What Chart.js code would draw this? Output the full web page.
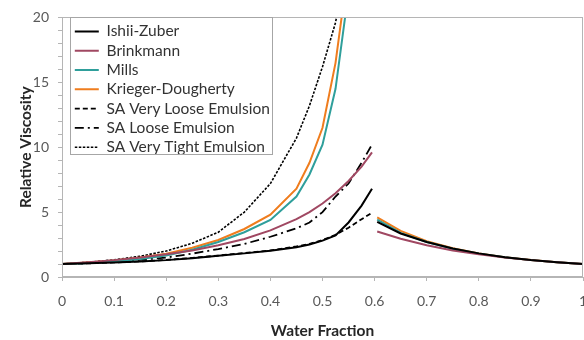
<!DOCTYPE html>
<html>
<head>
<meta charset="utf-8">
<script src="https://cdn.jsdelivr.net/npm/chart.js@4"></script>
<style>
  html, body { margin: 0; padding: 0; background: #fff; }
  #wrap { width: 584px; height: 340px; }
</style>
</head>
<body>
<div id="wrap"><canvas id="viscChart" width="584" height="340"></canvas></div>
<script>
// water fraction grids (oil-continuous side, water-continuous side)
const oilSideX = [0, 0.05, 0.1, 0.15, 0.2, 0.25, 0.3, 0.35, 0.4, 0.45, 0.475, 0.5, 0.525, 0.55, 0.575, 0.595];
const waterSideX = [0.605, 0.65, 0.7, 0.75, 0.8, 0.85, 0.9, 0.95, 1];

// relative viscosity
const ishiiOil = [1, 1.05, 1.12, 1.2, 1.3, 1.45, 1.63, 1.82, 2.03, 2.3, 2.5, 2.8, 3.2, 4.2, 5.5, 6.8];
const brinkOil = [1, 1.14, 1.3, 1.5, 1.75, 2.05, 2.44, 2.93, 3.59, 4.46, 5.0, 5.66, 6.45, 7.4, 8.5, 9.6];
const millsOil = [1, 1.08, 1.2, 1.38, 1.65, 2.1, 2.7, 3.45, 4.4, 6.2, 7.9, 10.2, 14.5, 22, null, null];
const kdOil = [1, 1.12, 1.28, 1.5, 1.8, 2.25, 2.85, 3.7, 4.8, 6.8, 8.8, 11.5, 16.5, 24, null, null];
const veryLooseOil = [1, 1.05, 1.12, 1.2, 1.32, 1.47, 1.65, 1.85, 2.05, 2.35, 2.55, 2.85, 3.25, 3.8, 4.45, 4.95];
const looseOil = [1, 1.08, 1.18, 1.32, 1.5, 1.8, 2.15, 2.55, 3.1, 3.75, 4.2, 5.0, 6.2, 7.2, 8.8, 10.2];
const veryTightOil = [1, 1.14, 1.32, 1.6, 2.0, 2.6, 3.45, 5.0, 7.2, 10.7, 13.2, 16.2, 19.6, 25, null, null];

const ishiiWater = [4.25, 3.35, 2.7, 2.2, 1.82, 1.53, 1.31, 1.14, 1];
const brinkWater = [3.5, 2.95, 2.44, 2.05, 1.75, 1.5, 1.3, 1.14, 1];
const millsWater = [4.42, 3.4, 2.7, 2.17, 1.8, 1.52, 1.3, 1.13, 1];
const kdWater = [4.6, 3.55, 2.76, 2.21, 1.82, 1.53, 1.31, 1.14, 1];

function pts(xs, ys) {
    return xs.map((x, i) => ({ x: x, y: ys[i] }));
}

// oil side + gap + water side
function twoBranch(oil, water) {
    return pts(oilSideX, oil).concat([{ x: 0.6, y: null }], pts(waterSideX, water));
}

const font = 'Lato, "Open Sans", sans-serif';

function series(label, data, color, dash, width) {
    return {
        label: label,
        data: data,
        borderColor: color,
        backgroundColor: color,
        borderWidth: width || 2,
        borderDash: dash || [],
        pointRadius: 0,
        tension: 0,
        fill: false,
        spanGaps: false,
    };
}

// legend sits inside the plot, framed; plot area gets a full box
const plotFrame = {
    id: 'plotFrame',
    afterLayout(chart) {
        const lg = chart.legend;
        lg.left = chart.chartArea.left + 9;
        lg.top = chart.chartArea.top + 2.5;
    },
    afterDraw(chart) {
        const { ctx, chartArea: a } = chart;
        ctx.save();
        ctx.strokeStyle = '#b5b5b5';
        ctx.lineWidth = 1;
        ctx.strokeRect(Math.round(a.left) + 0.5, Math.round(a.top) + 0.5, Math.round(a.width) - 1, Math.round(a.height) - 1);

        const lg = chart.legend;
        const pad = lg.options.labels.padding;
        const col = lg.columnSizes && lg.columnSizes[0];
        if (col) {
            const l = lg.left + pad - 5;
            const r = lg.left + pad + col.width + 2;
            const b = lg.top + pad + col.height - 4;
            ctx.strokeStyle = '#a6a6a6';
            ctx.strokeRect(Math.round(l) + 0.5, Math.round(a.top) + 0.5, Math.round(r - l), Math.round(b - a.top));
        }
        ctx.restore();
    }
};

new Chart(document.getElementById('viscChart'), {
    type: 'line',
    data: {
        datasets: [
            series('Ishii-Zuber', twoBranch(ishiiOil, ishiiWater), '#000000'),
            series('Brinkmann', twoBranch(brinkOil, brinkWater), '#a04862'),
            series('Mills', twoBranch(millsOil, millsWater), '#2f9f9b'),
            series('Krieger-Dougherty', twoBranch(kdOil, kdWater), '#ef7d1e'),
            series('SA Very Loose Emulsion', pts(oilSideX, veryLooseOil), '#000000', [5, 3], 1.8),
            series('SA Loose Emulsion', pts(oilSideX, looseOil), '#000000', [9, 4, 2, 4], 1.8),
            series('SA Very Tight Emulsion', pts(oilSideX, veryTightOil), '#000000', [2.5, 1.5], 1.6),
        ]
    },
    options: {
        responsive: false,
        animation: false,
        layout: { padding: { top: 11, right: 1, left: 0, bottom: 0 } },
        scales: {
            x: {
                type: 'linear',
                min: 0,
                max: 1,
                afterFit: s => { s.height = 63; s.paddingRight = 1; },
                ticks: {
                    stepSize: 0.1,
                    color: '#595959',
                    font: { family: font, size: 14 },
                    padding: 12,
                    maxRotation: 0,
                    autoSkip: false,
                    callback: v => String(Math.round(v * 10) / 10),
                },
                grid: { drawOnChartArea: false, tickLength: 4, color: '#b5b5b5' },
                border: { color: '#b5b5b5' },
                title: {
                    display: true,
                    text: 'Water Fraction',
                    color: '#262626',
                    font: { family: font, size: 15.5, weight: 'bold' },
                    padding: { top: 0, bottom: 0 },
                },
            },
            y: {
                min: 0,
                max: 20,
                afterFit: s => { s.width = 62; },
                ticks: {
                    stepSize: 1,
                    autoSkip: false,
                    color: '#595959',
                    font: { family: font, size: 14 },
                    padding: 9,
                    callback: v => (v % 5 === 0 ? v : ''),
                },
                grid: { drawOnChartArea: false, tickLength: 4, color: '#b5b5b5' },
                border: { color: '#b5b5b5' },
                title: {
                    display: true,
                    text: 'Relative Viscosity',
                    color: '#262626',
                    font: { family: font, size: 15.5, weight: 'bold' },
                    padding: { top: 17, bottom: 0 },
                },
            },
        },
        plugins: {
            legend: {
                position: 'chartArea',
                align: 'start',
                labels: {
                    usePointStyle: true,
                    pointStyle: 'line',
                    pointStyleWidth: 24,
                    color: '#333333',
                    font: { family: font, size: 15.5 },
                    padding: 3.8,
                    generateLabels(chart) {
                        const items = Chart.defaults.plugins.legend.labels.generateLabels(chart);
                        items.forEach(it => {
                            const ds = chart.data.datasets[it.datasetIndex];
                            it.lineDash = ds.borderDash;
                            it.lineWidth = ds.borderWidth;
                            it.strokeStyle = ds.borderColor;
                        });
                        return items;
                    },
                },
            },
            tooltip: { enabled: false },
        },
    },
    plugins: [plotFrame],
});
</script>
</body>
</html>
